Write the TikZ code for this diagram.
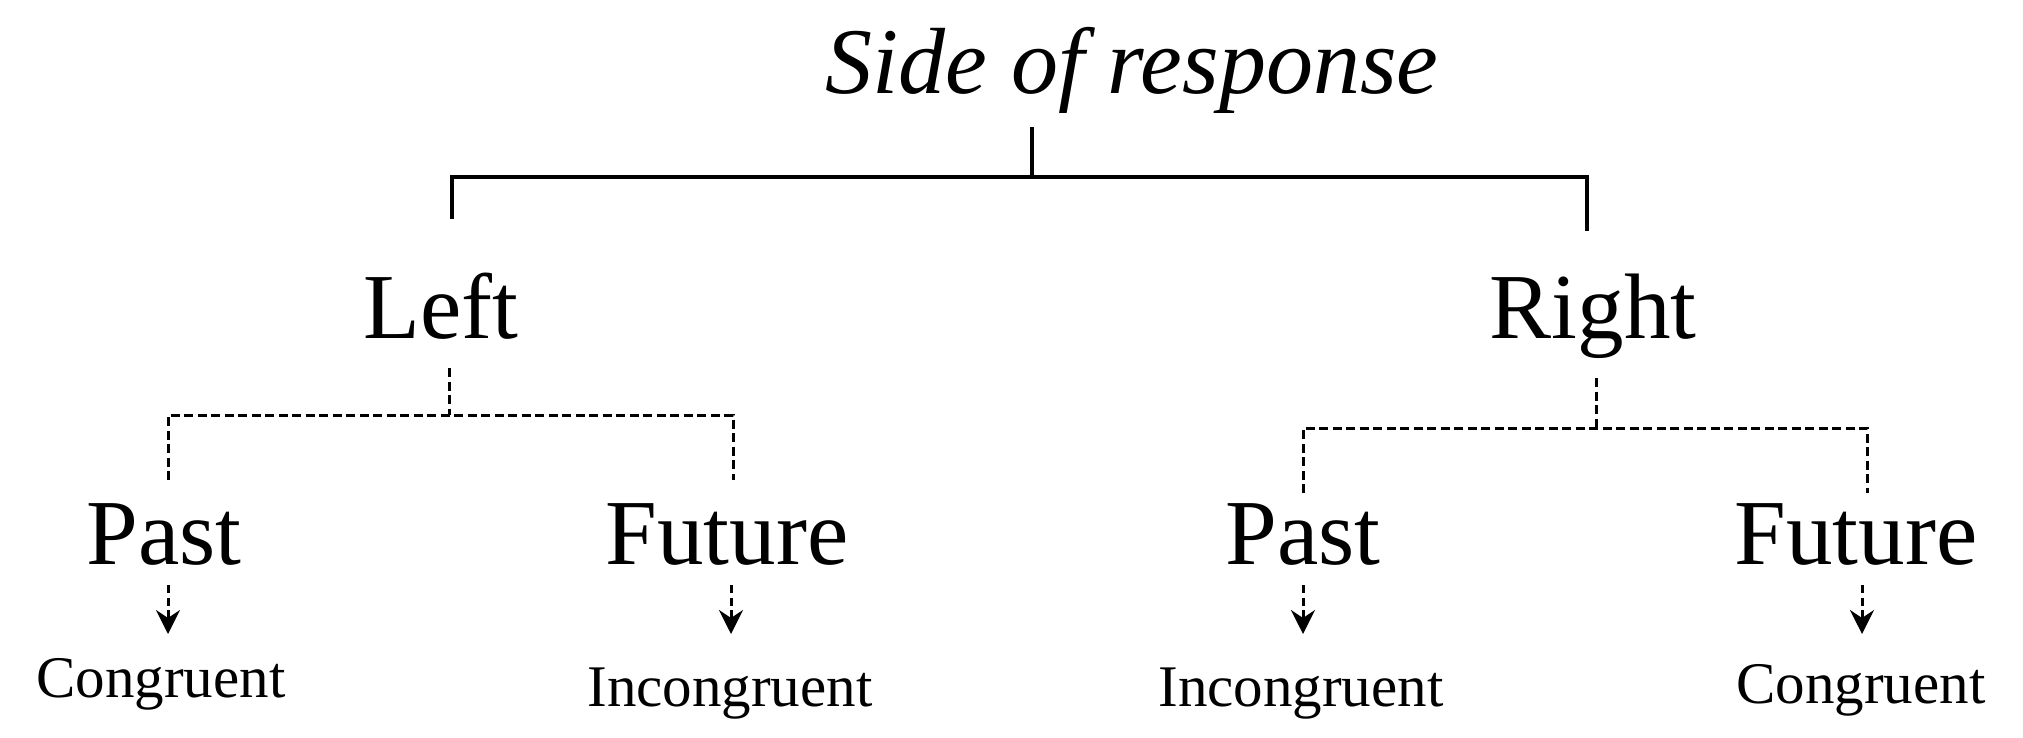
\documentclass[tikz,border=0pt]{standalone}
\usepackage{fontspec}
\setmainfont{Liberation Serif}
\usetikzlibrary{arrows.meta}
\begin{document}
\begin{tikzpicture}[x=1pt,y=-1pt,
  big/.style={anchor=base,inner sep=0pt,font=\fontsize{93}{100}\selectfont},
  small/.style={anchor=base,inner sep=0pt,font=\fontsize{59}{64}\selectfont},
  solidline/.style={line width=4.2pt},
  dashline/.style={line width=3pt,dash pattern=on 9pt off 4.5pt},
  arr/.style={line width=3pt,dash pattern=on 8pt off 4.5pt,-{Stealth[length=24pt,width=24pt,inset=8pt]}}]
\useasboundingbox (0,0) rectangle (2023,737);
% texts
\node[big,font=\fontsize{94}{100}\selectfont\itshape] (title) at (1132,93) {Side of response};
\node[big] (left) at (441,338) {Left};
\node[big] (right) at (1593,338) {Right};
\node[big] (pastL) at (164,564) {Past};
\node[big] (futL) at (727,564) {Future};
\node[big] (pastR) at (1303,564) {Past};
\node[big] (futR) at (1856,564) {Future};
\node[small] (conL) at (161,697) {Congruent};
\node[small] (incL) at (730,706) {Incongruent};
\node[small] (incR) at (1301,706) {Incongruent};
\node[small] (conR) at (1861,703) {Congruent};
% solid tree
\coordinate (s0) at (1032,127);
\coordinate (s1) at (1032,177);
\coordinate (sl) at (452,177);
\coordinate (sr) at (1587,177);
\coordinate (slb) at (452,219);
\coordinate (srb) at (1587,231);
\draw[solidline] (s0) -- (s1);
\draw[solidline] (slb) -- (sl) -- (sr) -- (srb);
% left dashed tree
\coordinate (l0) at (449,368);
\coordinate (l1) at (449,415);
\coordinate (la) at (168,415);
\coordinate (lb) at (733,415);
\coordinate (lab) at (168,480);
\coordinate (lbb) at (733,480);
\draw[dashline] (l0) -- (l1);
\draw[dashline] (lab) -- (la) -- (lb) -- (lbb);
% right dashed tree
\coordinate (r0) at (1596,378);
\coordinate (r1) at (1596,428);
\coordinate (ra) at (1303,428);
\coordinate (rb) at (1867,428);
\coordinate (rab) at (1303,493);
\coordinate (rbb) at (1867,493);
\draw[dashline] (r0) -- (r1);
\draw[dashline] (rab) -- (ra) -- (rb) -- (rbb);
% arrows
\coordinate (a1) at (168,585); \coordinate (a1e) at (168,634);
\coordinate (a2) at (731,585); \coordinate (a2e) at (731,634);
\coordinate (a3) at (1303,585); \coordinate (a3e) at (1303,634);
\coordinate (a4) at (1862,585); \coordinate (a4e) at (1862,634);
\draw[arr] (a1) -- (a1e);
\draw[arr] (a2) -- (a2e);
\draw[arr] (a3) -- (a3e);
\draw[arr] (a4) -- (a4e);
\end{tikzpicture}
\end{document}
